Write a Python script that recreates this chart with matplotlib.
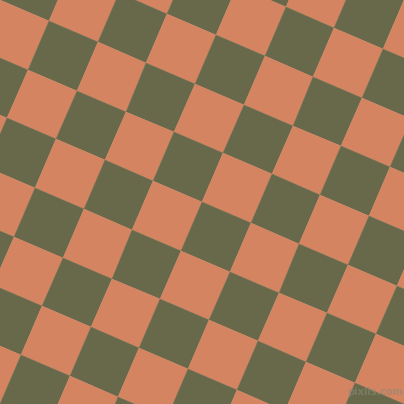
import numpy as np
import matplotlib
matplotlib.use("Agg")
import matplotlib.pyplot as plt
from matplotlib.colors import ListedColormap

# Pattern description (image pixel coordinates, y down)
origin = [49.0, 21.0]          # a lattice vertex
step_u = [48.7, 20.9]          # one square edge
colors = ["#67694A", "#D48461"]  # olive, salmon
watermark = "pixlis.com"

W = H = 404
ox, oy = origin
ux, uy = step_u
vx, vy = -uy, ux

idx = np.arange(-12, 13)
I, J = np.meshgrid(idx, idx)
X = ox + I * ux + J * vx
Y = oy + I * uy + J * vy
C = ((I[:-1, :-1] + J[:-1, :-1]) % 2).astype(float)

fig = plt.figure(figsize=(W / 100, H / 100), dpi=100)
ax = fig.add_axes([0, 0, 1, 1])
ax.pcolormesh(X, Y, C, cmap=ListedColormap(colors), vmin=0, vmax=1,
              shading="flat", antialiased=True, edgecolors="face", linewidth=0.3)
ax.set_xlim(0, W)
ax.set_ylim(H, 0)
ax.axis("off")
ax.text(375, 392, watermark, ha="center", va="center", fontsize=7,
        color="#8a8a78", alpha=0.6, fontweight="bold")
fig.savefig("out.png", dpi=100)
